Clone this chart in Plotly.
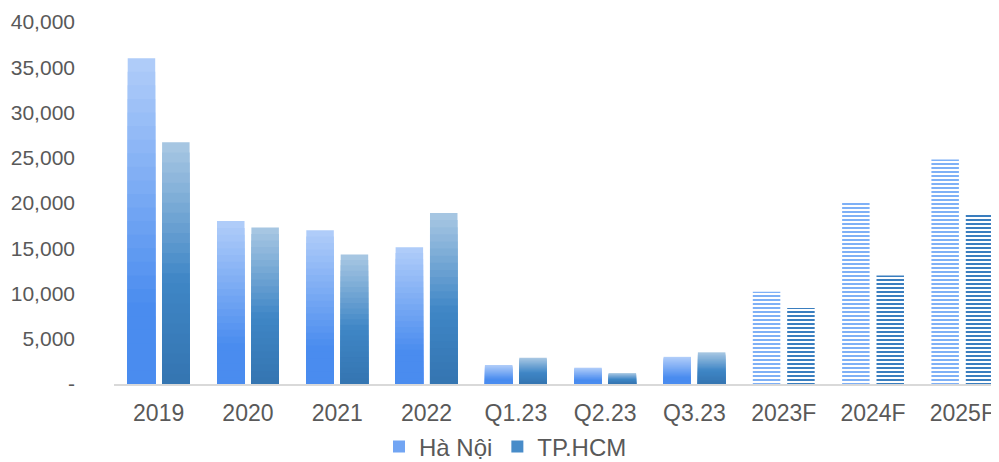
import plotly.graph_objects as go

categories = ["2019", "2020", "2021", "2022", "Q1.23", "Q2.23", "Q3.23", "2023F", "2024F", "2025F"]
ha_noi = [36000, 18000, 17000, 15100, 2100, 1800, 3000, 10200, 20000, 24800]
tp_hcm = [26700, 17300, 14300, 18900, 2900, 1200, 3500, 8400, 12000, 18700]
forecast_flags = [False, False, False, False, False, False, False, True, True, True]
y_tick_values = [0, 5000, 10000, 15000, 20000, 25000, 30000, 35000, 40000]
y_tick_labels = ["-", "5,000", "10,000", "15,000", "20,000", "25,000", "30,000", "35,000", "40,000"]

FONT = "Liberation Sans, Arial, sans-serif"
N_LAYERS = 24


def hex2rgb(h):
    h = h.lstrip("#")
    return tuple(int(h[i:i + 2], 16) for i in (0, 2, 4))


def mix(c1, c2, t):
    a, b = hex2rgb(c1), hex2rgb(c2)
    return "rgb(%d,%d,%d)" % tuple(round(a[i] + (b[i] - a[i]) * t) for i in range(3))


def ramp(stops, h):
    # stops: list of (relative height, colour) sorted by height ascending
    for (h0, c0), (h1, c1) in zip(stops, stops[1:]):
        if h <= h1:
            t = 0 if h1 == h0 else max(0.0, (h - h0) / (h1 - h0))
            return mix(c0, c1, t)
    return mix(stops[-1][1], stops[-1][1], 0)


series = [
    dict(name="Hà Nội", values=ha_noi, group="hn", stripe="#7eb0f6",
         stops=[(0.0, "#4a8cef"), (0.26, "#4a8cef"), (1.0, "#afccf9")], legend_h=0.55),
    dict(name="TP.HCM", values=tp_hcm, group="hcm", stripe="#3a7ebf",
         stops=[(0.0, "#3474b0"), (0.45, "#3f86c6"), (1.0, "#a6c6e2")], legend_h=0.5),
]

fig = go.Figure()
for s in series:
    top_colour = ramp(s["stops"], 1.0)
    colours = [s["stripe"] if f else top_colour for f in forecast_flags]
    shapes = ["-" if f else "" for f in forecast_flags]
    # full-height bar (top of gradient for actuals, striped for forecasts)
    fig.add_trace(go.Bar(
        x=categories, y=s["values"], name=s["name"], offsetgroup=s["group"],
        showlegend=False, legendgroup=s["group"],
        marker=dict(color=colours, line=dict(width=0),
                    pattern=dict(shape=shapes, size=4, solidity=0.5, fillmode="replace")),
    ))
    # gradient shading layers for actual bars
    for k in range(1, N_LAYERS + 1):
        h = 1.0 - k / N_LAYERS
        if h <= 0:
            break
        ys = [None if f else v * h for v, f in zip(s["values"], forecast_flags)]
        fig.add_trace(go.Bar(
            x=categories, y=ys, offsetgroup=s["group"], legendgroup=s["group"],
            showlegend=False, hoverinfo="skip",
            marker=dict(color=ramp(s["stops"], h), line=dict(width=0)),
        ))
    # legend swatch entry
    fig.add_trace(go.Bar(
        x=[categories[0]], y=[None], name=s["name"], offsetgroup=s["group"],
        legendgroup=s["group"], showlegend=True, hoverinfo="skip",
        marker=dict(color=ramp(s["stops"], s["legend_h"]), line=dict(width=0)),
    ))

fig.update_layout(
    width=999, height=462,
    margin=dict(l=106, r=0, t=14, b=86, autoexpand=False),
    paper_bgcolor="white", plot_bgcolor="white",
    barmode="group", bargap=0.23, bargroupgap=0.2,
    font=dict(family=FONT, size=21, color="#595959"),
    showlegend=True,
    legend=dict(orientation="h", xref="container", yref="container",
                x=0.498, xanchor="center", y=0.05, yanchor="middle",
                font=dict(size=24, color="#595959"), traceorder="normal",
                itemwidth=30, bgcolor="rgba(0,0,0,0)"),
)
fig.update_xaxes(
    type="category", range=[-0.5, 9.5], automargin=False,
    showline=True, linecolor="#d9d9d9", linewidth=2,
    ticks="", showgrid=False, ticklabelstandoff=7,
    tickfont=dict(size=23, color="#595959"),
)
fig.update_yaxes(
    range=[0, 40000], tickvals=y_tick_values, ticktext=y_tick_labels, automargin=False,
    showgrid=False, zeroline=False, showline=False, ticks="",
    ticklabelstandoff=38, tickfont=dict(size=21, color="#595959"),
)

fig.write_html("out.html")
